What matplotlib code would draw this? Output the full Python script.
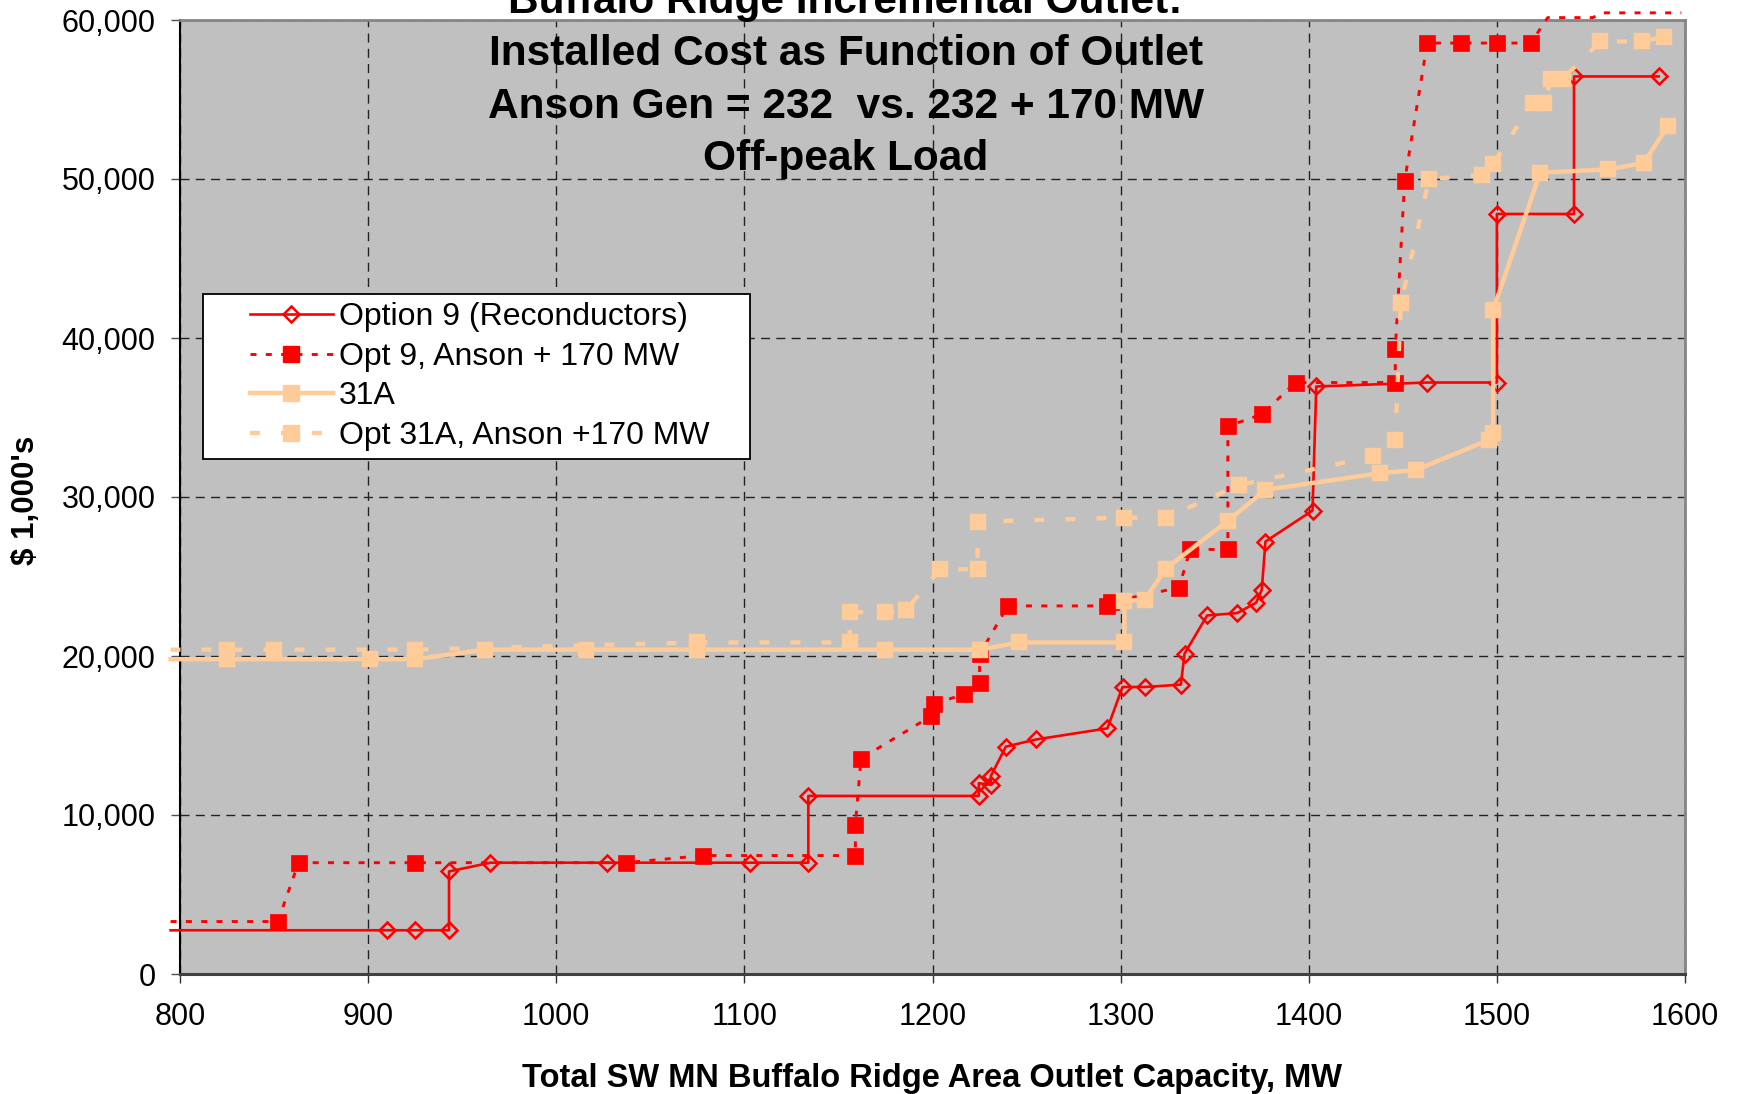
import matplotlib
matplotlib.use('Agg')
import matplotlib.pyplot as plt
from matplotlib.lines import Line2D
from matplotlib.legend_handler import HandlerLine2D
from matplotlib.ticker import FuncFormatter

plt.rcParams['font.family'] = ['Liberation Sans', 'DejaVu Sans']

# ---------------- data ----------------
title_lines = ["Buffalo Ridge Incremental Outlet:",
               "Installed Cost as Function of Outlet",
               "Anson Gen = 232  vs. 232 + 170 MW",
               "Off-peak Load"]
x_label = "Total SW MN Buffalo Ridge Area Outlet Capacity, MW"
y_label = "$ 1,000's"
series_names = ["Option 9 (Reconductors)", "Opt 9, Anson + 170 MW",
                "31A", "Opt 31A, Anson +170 MW"]

opt9_x = [795, 910, 925, 943, 943, 965, 1027, 1103, 1134, 1134, 1224.6, 1224.6,
          1231, 1231, 1239, 1255, 1293, 1301, 1313, 1332, 1334, 1346, 1362, 1372,
          1375, 1377, 1402, 1404, 1463, 1500, 1500, 1541, 1541, 1586]
opt9_y = [2750, 2750, 2750, 2750, 6450, 7000, 7000, 7000, 7000, 11200, 11200, 12000,
          11900, 12450, 14300, 14750, 15450, 18050, 18050, 18200, 20150, 22550, 22700, 23350,
          24150, 27200, 29150, 36950, 37200, 37200, 47800, 47800, 56450, 56450]

opt9a_x = [795, 852, 863, 925, 1037, 1078, 1159, 1159, 1162, 1199, 1201, 1217, 1225,
           1225, 1240, 1293, 1295, 1331, 1337, 1357, 1357, 1375, 1393, 1446, 1446, 1451,
           1463, 1481, 1500, 1518, 1527, 1551, 1556, 1598]
opt9a_y = [3300, 3300, 7000, 7000, 7000, 7450, 7450, 9400, 13550, 16200, 17000, 17600, 18300,
           20100, 23150, 23150, 23400, 24300, 26700, 26700, 34450, 35200, 37200, 37200, 39300, 49900,
           58550, 58550, 58550, 58550, 60150, 60150, 60450, 60450]

a31_x = [795, 825, 901, 925, 962, 1016, 1075, 1175, 1225, 1246, 1302, 1302, 1313, 1324,
         1357, 1377, 1438, 1457, 1496, 1498, 1498, 1523, 1559, 1578, 1591]
a31_y = [19800, 19800, 19800, 19800, 20400, 20400, 20400, 20400, 20400, 20850, 20850, 23450,
         23550, 25500, 28500, 30450, 31500, 31700, 33600, 34000, 41750, 50400, 50600, 51000, 53350]

d31_x = [795, 825, 850, 925, 1075, 1156, 1156, 1175, 1186, 1204, 1224, 1224, 1302, 1324,
         1363, 1434, 1446, 1449, 1464, 1492, 1498, 1519, 1525, 1529, 1535, 1555, 1577, 1589]
d31_y = [20400, 20400, 20400, 20400, 20850, 20850, 22750, 22750, 22900, 25450, 25450, 28450,
         28700, 28700, 30750, 32550, 33600, 42200, 50000, 50250, 50950, 54800, 54800, 56300,
         56300, 58650, 58650, 58950]

x_ticks = [800, 900, 1000, 1100, 1200, 1300, 1400, 1500, 1600]
y_ticks = [0, 10000, 20000, 30000, 40000, 50000, 60000]

# ---------------- figure ----------------
W, H = 1741, 1094
fig = plt.figure(figsize=(W / 100, H / 100), dpi=100)
ax = fig.add_axes([180 / W, (H - 974) / H, 1505 / W, 954 / H])
ax.set_facecolor('#C0C0C0')
ax.set_xlim(800, 1600)
ax.set_ylim(0, 60000)
ax.set_axisbelow(True)

RED = '#FF0000'
TAN = '#FFCC99'


def visible(xs, ys):
    return [i for i, (x, y) in enumerate(zip(xs, ys))
            if 800 <= x <= 1600 and 0 <= y <= 60000]


ax.plot(opt9_x, opt9_y, color=RED, lw=1.9, marker='D', ms=8.4, mfc='none',
        mec=RED, mew=1.8, markevery=visible(opt9_x, opt9_y), clip_on=False, zorder=3)
ax.plot(opt9a_x, opt9a_y, color=RED, lw=2.1, ls=(0, (2.05, 3.2)), marker='s', ms=11,
        mfc=RED, mec=RED, mew=0.5, markevery=visible(opt9a_x, opt9a_y), clip_on=False, zorder=4)
ax.plot(a31_x, a31_y, color=TAN, lw=3.2, marker='s', ms=11, mfc=TAN, mec=TAN, mew=0.3,
        markevery=visible(a31_x, a31_y), clip_on=False, zorder=5)
ax.plot(d31_x, d31_y, color=TAN, lw=3.1, ls=(0, (2.3, 4.9)), marker='s', ms=11, mfc=TAN,
        mec=TAN, mew=0.3, markevery=visible(d31_x, d31_y), clip_on=False, zorder=6)

# axes styling
ax.set_xticks(x_ticks)
ax.set_yticks(y_ticks)
ax.yaxis.set_major_formatter(FuncFormatter(lambda v, p: f"{int(v):,}"))
ax.tick_params(axis='both', labelsize=22, colors='black', direction='out')
ax.tick_params(axis='x', length=6.5, width=1, pad=14, color='#303030')
ax.tick_params(axis='y', length=6.5, width=1, pad=11, color='#505050')
ax.grid(True, color='#222222', lw=1.0, ls=(0, (6.5, 4.5)))

ax.spines['left'].set_color('black')
ax.spines['left'].set_linewidth(1.5)
ax.spines['bottom'].set_color('#404040')
ax.spines['bottom'].set_linewidth(2.2)
for s in ('top', 'right'):
    ax.spines[s].set_color('#858585')
    ax.spines[s].set_linewidth(2.0)

# titles & labels
baselines = [12.5, 65, 117.5, 170]
for txt, b in zip(title_lines, baselines):
    fig.text(845.6 / W, 1 - b / H, txt, ha='center', va='baseline',
             fontsize=30.5, fontweight='bold', color='black', zorder=10)

fig.text(932.5 / W, 7.3 / H, x_label, ha='center', va='baseline',
         fontsize=23.5, fontweight='bold')
fig.text(26 / W, 1 - 500.5 / H, y_label, ha='center', va='center', rotation=90,
         fontsize=22.5, fontweight='bold')


# legend
class ShiftHandler(HandlerLine2D):
    def __init__(self, shift_em, **kw):
        super().__init__(**kw)
        self.shift_em = shift_em

    def create_artists(self, legend, orig_handle, xdescent, ydescent, width, height,
                       fontsize, trans):
        sh = self.shift_em * fontsize
        return super().create_artists(legend, orig_handle, xdescent - sh, ydescent,
                                      width - sh, height, fontsize, trans)


handles = [
    Line2D([], [], color=RED, lw=1.9, marker='D', ms=8.4, mfc='none', mec=RED, mew=1.8),
    Line2D([], [], color=RED, lw=2.1, ls=(0, (2.05, 3.2)), marker='s', ms=11, mfc=RED, mec=RED),
    Line2D([], [], color=TAN, lw=3.2, marker='s', ms=11, mfc=TAN, mec=TAN),
    Line2D([], [], color=TAN, lw=3.1, ls=(0, (2.3, 4.9)), marker='s', ms=11, mfc=TAN, mec=TAN),
]
hm = {h: ShiftHandler(1.2) for h in handles}
leg = ax.legend(handles, series_names, loc='upper left',
                bbox_to_anchor=(0.0153, 0.5, 0.3635, 0.2128), mode='expand',
                borderaxespad=0, fontsize=23, handlelength=3.8, handletextpad=0.19,
                borderpad=0.26, labelspacing=0.3, frameon=True, fancybox=False,
                framealpha=1, edgecolor='black', facecolor='white', handler_map=hm)
leg.get_frame().set_linewidth(1.3)
leg.set_zorder(20)

fig.savefig('out.png', dpi=100, facecolor='white')
